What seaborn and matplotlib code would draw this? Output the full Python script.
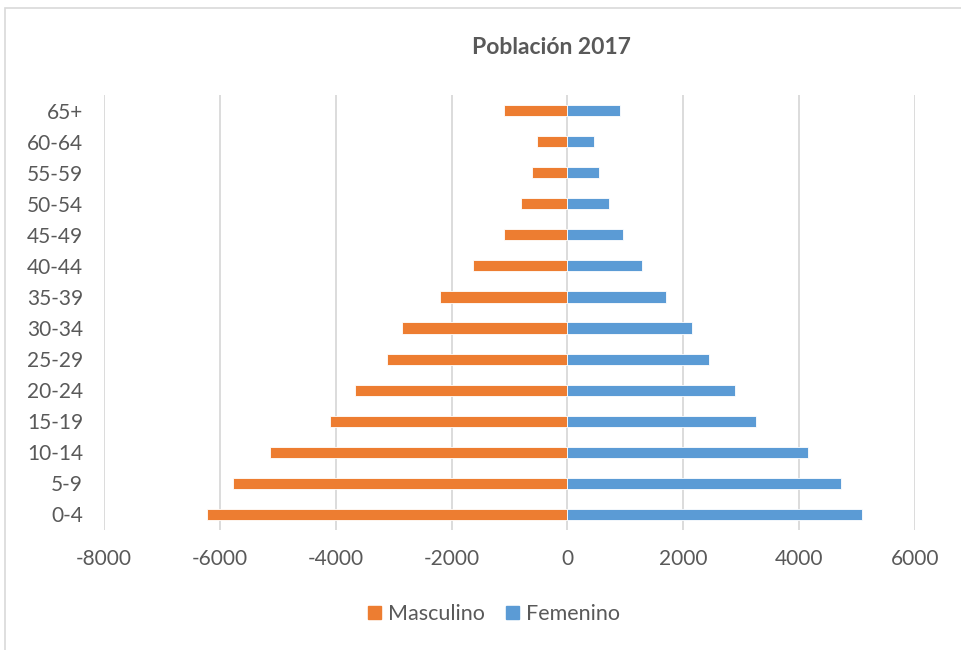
import numpy as np
import pandas as pd
import matplotlib
matplotlib.use("Agg")
import matplotlib.pyplot as plt
import seaborn as sns
from matplotlib.patches import Patch

# Age groups (bottom to top) and population per sex
edades = ["0-4", "5-9", "10-14", "15-19", "20-24", "25-29", "30-34",
          "35-39", "40-44", "45-49", "50-54", "55-59", "60-64", "65+"]
masculino = [6220, 5780, 5135, 4100, 3670, 3110, 2860,
             2200, 1625, 1100, 800, 610, 520, 1100]
femenino = [5090, 4715, 4155, 3255, 2900, 2450, 2155,
            1700, 1290, 965, 715, 545, 455, 915]
ticks_x = [-8000, -6000, -4000, -2000, 0, 2000, 4000, 6000]

naranja = "#ED7D31"
azul = "#5B9BD5"
gris = "#595959"

df = pd.DataFrame({
    "edad": edades * 2,
    "valor": [-v for v in masculino] + femenino,
    "sexo": ["Masculino"] * len(edades) + ["Femenino"] * len(edades),
})

sns.set_theme(style="white")
plt.rcParams["font.family"] = ["Lato", "DejaVu Sans"]

fig = plt.figure(figsize=(9.62, 6.5), dpi=100)
ax = fig.add_axes([104 / 962, 1 - 530 / 650, (915 - 104) / 962, (530 - 95) / 650])

sns.barplot(data=df, x="valor", y="edad", hue="sexo", order=edades[::-1],
            hue_order=["Masculino", "Femenino"], dodge=False, width=0.36,
            palette={"Masculino": naranja, "Femenino": azul}, saturation=1,
            edgecolor="white", linewidth=0.6, legend=False, ax=ax, zorder=3)

ax.set_xlim(-8000, 6000)
ax.set_ylim(13.5, -0.5)
ax.set_xticks(ticks_x)
ax.set_xticklabels([str(t) for t in ticks_x])
ax.grid(axis="x", color="#D9D9D9", linewidth=1.3, zorder=0)
ax.grid(axis="y", visible=False)
for s in ax.spines.values():
    s.set_visible(False)
ax.tick_params(axis="both", length=0, labelsize=15, labelcolor=gris)
ax.tick_params(axis="x", pad=14)
ax.tick_params(axis="y", pad=15)
ax.set_xlabel("")
ax.set_ylabel("")

fig.text(551 / 962, 1 - 47 / 650, "Población 2017", ha="center", va="center",
         fontsize=16.5, fontweight="bold", color=gris)

handles = [Patch(color=naranja, label="Masculino"), Patch(color=azul, label="Femenino")]
fig.legend(handles=handles, loc="center", bbox_to_anchor=(494 / 962, 1 - 614 / 650),
           ncol=2, frameon=False, fontsize=15.5, handlelength=0.6, handleheight=0.6,
           handletextpad=0.3, columnspacing=1.0, labelcolor=gris)

# chart area border
fig.add_artist(plt.Rectangle((5 / 962, -0.01), 1.02, 1 - 8 / 650 + 0.01,
                             transform=fig.transFigure, fill=False,
                             edgecolor="#D9D9D9", linewidth=1.2, clip_on=False))

fig.savefig("out.png", dpi=100, facecolor="white")
